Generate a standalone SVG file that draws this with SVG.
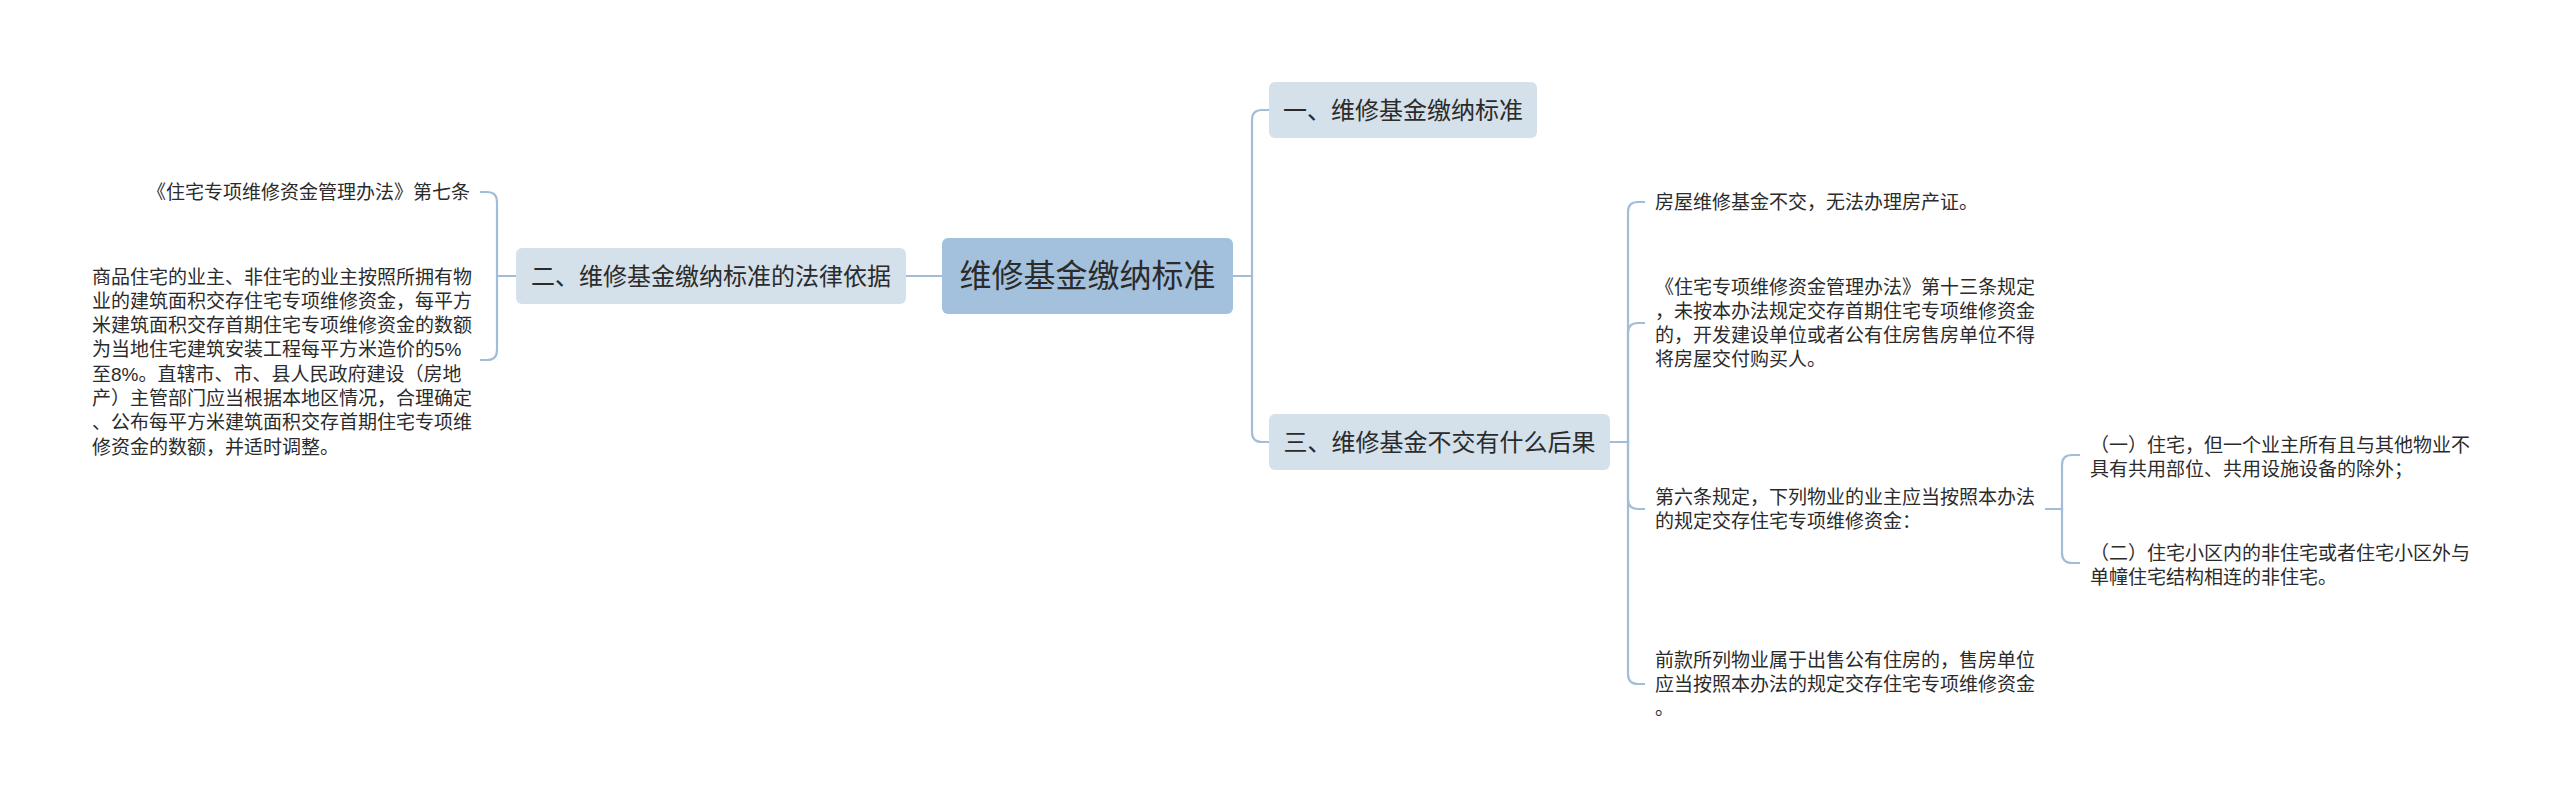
<svg xmlns="http://www.w3.org/2000/svg" width="2560" height="811" viewBox="0 0 2560 811">
<style>
text{font-family:"Liberation Sans","Noto Sans CJK SC",sans-serif;fill:#2b2b2b;dominant-baseline:central}
.root{font-size:32px;text-anchor:middle}
.l1{font-size:24px;text-anchor:middle}
.leaf{font-size:19px}
.end{text-anchor:end}
.c path{fill:none;stroke:#a3bdd8;stroke-width:2.2}
.rootbox{fill:#a3c0dc}
.l1box{fill:#d4e0ea}
</style>
<rect width="2560" height="811" fill="#ffffff"/>
<g class="c" id="connectors">
<path d="M1233,276 H1252 V120 Q1252,110 1262,110 H1269"/>
<path d="M1233,276 H1252 V432 Q1252,442 1262,442 H1269"/>
<path d="M942,276 H906"/>
<path d="M516,276 H497 V202 Q497,192 487,192 H480"/>
<path d="M516,276 H497 V350 Q497,360 487,360 H480"/>
<path d="M1610,442 H1628 V212 Q1628,202 1638,202 H1645"/>
<path d="M1610,442 H1628 V333 Q1628,323 1638,323 H1645"/>
<path d="M1610,442 H1628 V499 Q1628,509 1638,509 H1645"/>
<path d="M1610,442 H1628 V674 Q1628,684 1638,684 H1645"/>
<path d="M2045,509 H2062 V465 Q2062,455 2072,455 H2080"/>
<path d="M2045,509 H2062 V553 Q2062,563 2072,563 H2080"/>
</g>
<g id="root">
<rect class="rootbox" x="942" y="238" width="291" height="76" rx="6"/>
<text class="root" x="1087.5" y="276">维修基金缴纳标准</text>
</g>
<g id="n1">
<rect class="l1box" x="1269" y="82" width="268" height="56" rx="6"/>
<text class="l1" x="1403" y="110">一、维修基金缴纳标准</text>
</g>
<g id="n2">
<rect class="l1box" x="516" y="248" width="390" height="56" rx="6"/>
<text class="l1" x="711" y="276">二、维修基金缴纳标准的法律依据</text>
</g>
<g id="n3">
<rect class="l1box" x="1269" y="414" width="341" height="56" rx="6"/>
<text class="l1" x="1439.5" y="442">三、维修基金不交有什么后果</text>
</g>
<g id="n2a">
<text class="leaf end" x="470" y="192">《住宅专项维修资金管理办法》第七条</text>
</g>
<g id="n2b">
<text class="leaf" x="92" y="277">商品住宅的业主、非住宅的业主按照所拥有物</text>
<text class="leaf" x="92" y="301.3">业的建筑面积交存住宅专项维修资金，每平方</text>
<text class="leaf" x="92" y="325.6">米建筑面积交存首期住宅专项维修资金的数额</text>
<text class="leaf" x="92" y="349.9">为当地住宅建筑安装工程每平方米造价的5%</text>
<text class="leaf" x="92" y="374.2">至8%。直辖市、市、县人民政府建设（房地</text>
<text class="leaf" x="92" y="398.5">产）主管部门应当根据本地区情况，合理确定</text>
<text class="leaf" x="92" y="422.8">、公布每平方米建筑面积交存首期住宅专项维</text>
<text class="leaf" x="92" y="447.1">修资金的数额，并适时调整。</text>
</g>
<g id="n3a">
<text class="leaf" x="1655" y="202">房屋维修基金不交，无法办理房产证。</text>
</g>
<g id="n3b">
<text class="leaf" x="1655" y="287">《住宅专项维修资金管理办法》第十三条规定</text>
<text class="leaf" x="1655" y="311">，未按本办法规定交存首期住宅专项维修资金</text>
<text class="leaf" x="1655" y="335">的，开发建设单位或者公有住房售房单位不得</text>
<text class="leaf" x="1655" y="359">将房屋交付购买人。</text>
</g>
<g id="n3c">
<text class="leaf" x="1655" y="497">第六条规定，下列物业的业主应当按照本办法</text>
<text class="leaf" x="1655" y="521">的规定交存住宅专项维修资金：</text>
</g>
<g id="n3d">
<text class="leaf" x="1655" y="660">前款所列物业属于出售公有住房的，售房单位</text>
<text class="leaf" x="1655" y="684">应当按照本办法的规定交存住宅专项维修资金</text>
<text class="leaf" x="1655" y="708">。</text>
</g>
<g id="n3c1">
<text class="leaf" x="2090" y="445">（一）住宅，但一个业主所有且与其他物业不</text>
<text class="leaf" x="2090" y="469">具有共用部位、共用设施设备的除外；</text>
</g>
<g id="n3c2">
<text class="leaf" x="2090" y="553">（二）住宅小区内的非住宅或者住宅小区外与</text>
<text class="leaf" x="2090" y="577">单幢住宅结构相连的非住宅。</text>
</g>
</svg>
